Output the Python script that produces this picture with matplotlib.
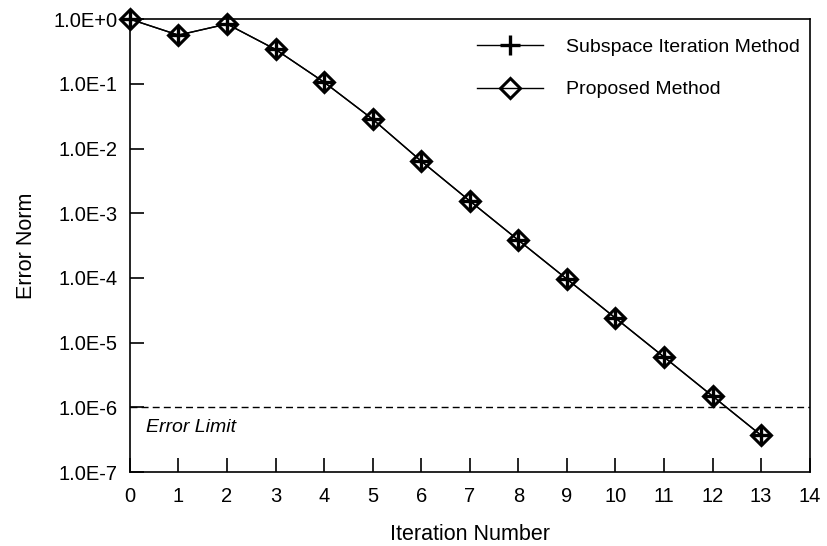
import matplotlib.pyplot as plt
from matplotlib.ticker import FixedLocator, NullLocator

plt.rcParams['font.family'] = ['Liberation Sans', 'DejaVu Sans']

# iteration data
iterations = [0, 1, 2, 3, 4, 5, 6, 7, 8, 9, 10, 11, 12, 13]
subspace_err = [1.0, 0.566, 0.84, 0.34, 0.106, 0.0284, 6.4e-3, 1.55e-3,
                3.84e-4, 9.6e-5, 2.4e-5, 6.0e-6, 1.49e-6, 3.7e-7]
proposed_err = [1.0, 0.566, 0.84, 0.34, 0.106, 0.0284, 6.4e-3, 1.55e-3,
                3.84e-4, 9.6e-5, 2.4e-5, 6.0e-6, 1.49e-6, 3.7e-7]
error_limit = 1.0e-6

y_ticks = [1e0, 1e-1, 1e-2, 1e-3, 1e-4, 1e-5, 1e-6, 1e-7]
y_labels = ["1.0E+0", "1.0E-1", "1.0E-2", "1.0E-3", "1.0E-4", "1.0E-5", "1.0E-6", "1.0E-7"]

fig = plt.figure(figsize=(8.27, 5.46), dpi=100)
ax = fig.add_axes([0.157, 0.1355, 0.822, 0.8295])

ax.plot(iterations, subspace_err, color='black', lw=1.0, marker='+',
        markersize=14, markeredgewidth=2.4, label='Subspace Iteration Method',
        clip_on=False, zorder=3)
ax.plot(iterations, proposed_err, color='black', lw=1.0, marker='D',
        markersize=10, markeredgewidth=2.2, markerfacecolor='none',
        label='Proposed Method', clip_on=False, zorder=3)
ax.axhline(error_limit, color='black', lw=1.0, ls=(0, (5, 3)))
ax.text(0.33, 4.9e-7, "Error Limit", style='italic', va='center', fontsize=14)

ax.set_yscale('log')
ax.set_xlim(0, 14)
ax.set_ylim(1e-7, 1e0)
ax.set_xticks(range(0, 15))
ax.yaxis.set_major_locator(FixedLocator(y_ticks))
ax.yaxis.set_minor_locator(NullLocator())
ax.set_yticklabels(y_labels)
ax.tick_params(direction='in', length=10, width=1.2, labelsize=14.5)
ax.tick_params(axis='x', pad=11)
ax.tick_params(axis='y', pad=9)
for s in ax.spines.values():
    s.set_linewidth(1.2)

ax.set_xlabel("Iteration Number", fontsize=15.5, labelpad=13)
ax.set_ylabel("Error Norm", fontsize=15.5, labelpad=12)

leg = ax.legend(loc='upper left', bbox_to_anchor=(0.51, 0.957), frameon=False,
                handlelength=3.4, fontsize=14, borderpad=0, borderaxespad=0,
                labelspacing=1.26, handletextpad=1.2)

plt.savefig("out.png", dpi=100)
